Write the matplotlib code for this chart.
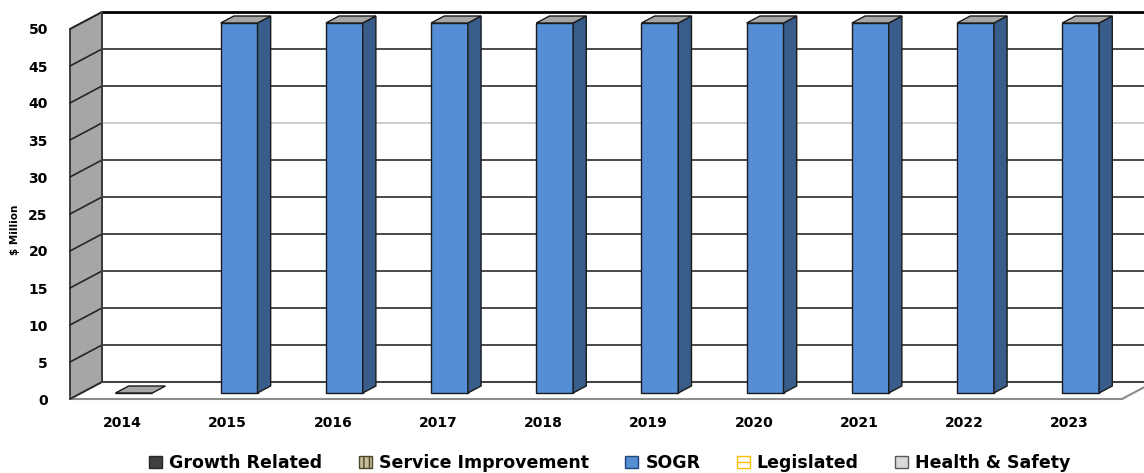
import matplotlib
matplotlib.use("Agg")
import matplotlib.pyplot as plt
import numpy as np
from matplotlib.patches import Polygon, Patch
from matplotlib.transforms import ScaledTranslation, IdentityTransform

years = ['2014', '2015', '2016', '2017', '2018', '2019', '2020', '2021', '2022', '2023']
growth_related = [0, 0, 0, 0, 0, 0, 0, 0, 0, 0]
service_improvement = [0, 0, 0, 0, 0, 0, 0, 0, 0, 0]
sogr = [0, 50, 50, 50, 50, 50, 50, 50, 50, 50]
legislated = [0, 0, 0, 0, 0, 0, 0, 0, 0, 0]
health_safety = [0, 0, 0, 0, 0, 0, 0, 0, 0, 0]
yticks = [0, 5, 10, 15, 20, 25, 30, 35, 40, 45, 50]

W, H, DPI = 1144, 473, 100
plt.rcParams['font.family'] = ['DejaVu Sans']
fig = plt.figure(figsize=(W / DPI, H / DPI), dpi=DPI)
# front plane of the 3d box, in pixels
ax = fig.add_axes([70 / W, 74 / H, (1122 - 70) / W, (444 - 74) / H])
ax.set_xlim(-0.5, 9.5)
ax.set_ylim(0, 50)
ax.set_zorder(2.5)
for s in ax.spines.values():
    s.set_visible(False)
ax.patch.set_visible(False)

DX, DY = 32, 17  # depth of the box in pixels


def pt(x, y, d):
    px, py = ax.transData.transform((x, y))
    return (px + d * DX, py + d * DY)


def poly(pts, **kw):
    fig.add_artist(Polygon(pts, closed=True, transform=IdentityTransform(), **kw))


def line(a, b, **kw):
    fig.add_artist(plt.Line2D([a[0], b[0]], [a[1], b[1]], transform=IdentityTransform(), **kw))


# side wall
poly([pt(-0.5, 0, 0), pt(-0.5, 50, 0), pt(-0.5, 50, 1), pt(-0.5, 0, 1)],
     facecolor='#a6a6a6', edgecolor='#262626', lw=1.2, zorder=1)
# floor
poly([pt(-0.5, 0, 0), pt(9.5, 0, 0), pt(9.5, 0, 1), pt(-0.5, 0, 1)],
     facecolor='white', edgecolor='#8c8c8c', lw=1.5, zorder=1)

# gridlines on side and back walls
for v in yticks:
    c, lw = '#3c3c3c', 1.3
    if v == 35:
        c = '#c8c8c8'
    if v == 50:
        c, lw = 'black', 2
    line(pt(-0.5, v, 0), pt(-0.5, v, 1), color='#262626', lw=1.2, zorder=2)
    line(pt(-0.5, v, 1), pt(9.5, v, 1), color=c, lw=lw, zorder=2)
line(pt(-0.5, 0, 1), pt(-0.5, 50, 1), color='#3c3c3c', lw=1.3, zorder=2)

# bars
x = np.arange(len(years))
w = 0.35
d0, d1 = 6 / 17, 13 / 17
front_off = ScaledTranslation(d0 * DX / DPI, d0 * DY / DPI, fig.dpi_scale_trans)
ax.bar(x, sogr, width=w, color='#558ed5', edgecolor='#1a1a1a', lw=1.0,
       transform=ax.transData + front_off, zorder=3, clip_on=False)
for xi, v in zip(x, sogr):
    l, r = xi - w / 2, xi + w / 2
    if v > 0:
        poly([pt(r, 0, d0), pt(r, v, d0), pt(r, v, d1), pt(r, 0, d1)],
             facecolor='#385d8a', edgecolor='#1a1a1a', lw=1.0, zorder=3)
    poly([pt(l, v, d0), pt(r, v, d0), pt(r, v, d1), pt(l, v, d1)],
         facecolor='#a6a6a6', edgecolor='#1a1a1a', lw=1.0, zorder=3)

ax.set_yticks(yticks)
ax.set_yticklabels([str(v) for v in yticks], fontsize=10, fontweight='bold')
ax.set_xticks(x)
ax.set_xticklabels(years, fontsize=10, fontweight='bold')
ax.tick_params(axis='y', length=0, pad=16)
ax.tick_params(axis='x', length=0, pad=12)
fig.text(15 / W, 1 - 230 / H, '$ Million', rotation=90, ha='center', va='center',
         fontsize=7.5, fontweight='bold')

handles = [
    Patch(facecolor='#404040', edgecolor='#262626'),
    Patch(facecolor='#c4bd97', edgecolor='#4a452a', hatch='|||'),
    Patch(facecolor='#558ed5', edgecolor='#1f497d'),
    Patch(facecolor='white', edgecolor='#ffc000', hatch='--'),
    Patch(facecolor='#d9d9d9', edgecolor='#595959'),
]
labels = ['Growth Related', 'Service Improvement', 'SOGR', 'Legislated', 'Health & Safety']
fig.legend(handles, labels, loc='center', bbox_to_anchor=(610 / W, 1 - 463 / H), ncol=5,
           frameon=False, handlelength=0.75, handleheight=0.75, handletextpad=0.4,
           columnspacing=2.1, prop={'weight': 'bold', 'size': 12.5})

fig.savefig('out.png', dpi=DPI)
